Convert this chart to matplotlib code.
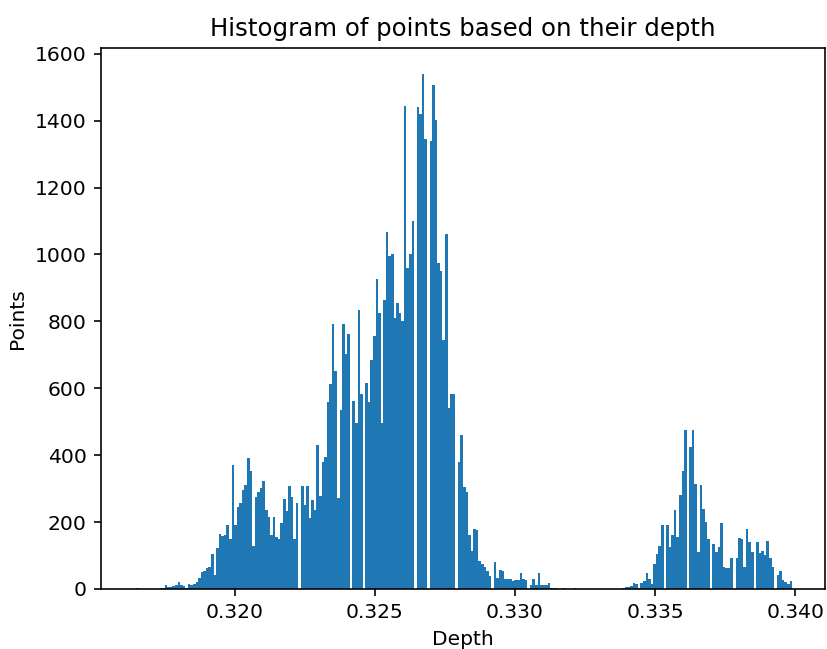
import numpy as np
import matplotlib
matplotlib.use("Agg")
import matplotlib.pyplot as plt

# Depth range covered by the histogram and number of bins
depth_min = 0.31641
depth_max = 0.33989
n_bins = 256

# Point counts per bin, grouped by region of the depth axis
counts_near_tail = [1, 4, 0, 0, 0, 0, 0, 0, 0, 0,
                    2, 4, 13, 6, 5, 8, 13, 20, 11, 8, 4, 16, 11, 16, 21, 34,
                    51, 54, 64, 66, 104, 43, 122, 165, 158, 160, 192, 148, 372]
counts_first_hump = [190, 244, 257, 297, 312, 392, 352, 130, 275, 290, 302, 324,
                     237, 214, 162, 214, 155, 150, 197, 270, 232, 307, 275, 150,
                     257, 0, 307, 250, 307, 212, 267, 237, 429, 279, 380, 394,
                     560, 612, 792, 652, 272, 534, 792]
counts_main_rise = [703, 761, 0, 563, 495, 834, 584, 0, 616, 558, 684, 757, 926,
                    825, 495, 863, 1067, 994, 1000, 810, 855, 825, 800, 1445,
                    960, 1000, 1100]
counts_main_peak = [0, 1440, 1420, 1540, 1346, 0, 1340, 1505, 1401, 975, 950,
                    745, 1060, 540, 584, 584, 0]
counts_main_fall = [380, 460, 305, 290, 160, 115, 180, 175, 85, 75, 65, 55, 40, 0,
                    82, 34, 57, 55, 30, 30, 30, 24, 26, 26, 49, 29, 26, 0, 12,
                    30, 12, 49, 12, 12, 12, 17, 4, 4, 4, 1, 1, 4, 0, 0, 0, 4]
counts_gap = [0, 0, 0, 0, 0, 0, 0, 0, 0, 0, 0, 0, 0, 0, 0, 1, 0, 1]
counts_far_cluster = [2, 5, 5, 9, 17, 14, 4, 17, 25, 47, 30, 14, 74, 104, 130, 192,
                      0, 192, 125, 162, 237, 154, 280, 354, 474,
                      0, 425, 474, 314, 112, 312, 240, 200, 150,
                      0, 134, 110, 126, 196, 67, 62, 62, 92,
                      0, 92, 151, 148, 67, 178, 139, 110,
                      0, 139, 108, 113, 103, 143, 92, 65,
                      0, 42, 55, 28, 20, 15, 25]

counts = np.array(counts_near_tail + counts_first_hump + counts_main_rise
                  + counts_main_peak + counts_main_fall + counts_gap
                  + counts_far_cluster, dtype=float)

edges = np.linspace(depth_min, depth_max, n_bins + 1)
centers = 0.5 * (edges[:-1] + edges[1:])

dpi = 146
fig = plt.figure(figsize=(827 / dpi, 649 / dpi), dpi=dpi)
ax = fig.add_axes([101 / 827, 60 / 649, 724 / 827, 541 / 649])

ax.hist(centers, bins=edges, weights=counts, color="#1f77b4")

ax.set_title("Histogram of points based on their depth")
ax.set_xlabel("Depth")
ax.set_ylabel("Points")

fig.savefig("out.png", dpi=dpi)
